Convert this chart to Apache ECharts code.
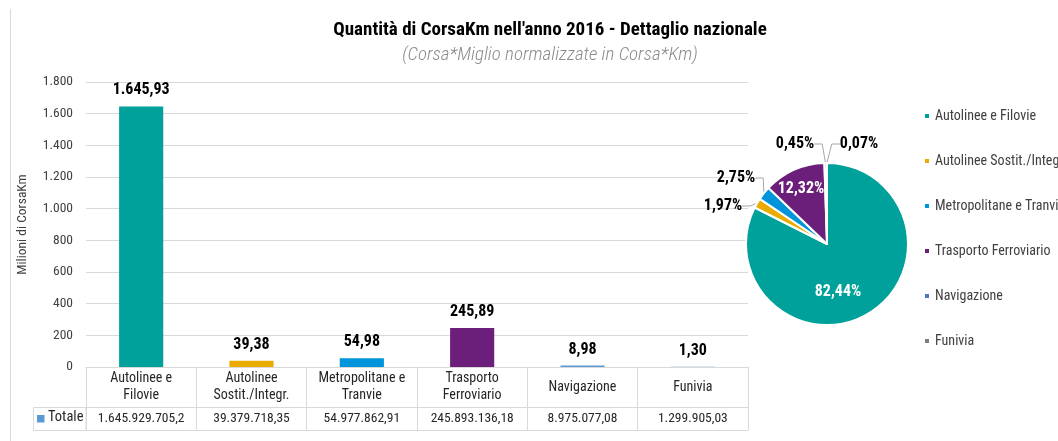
<!DOCTYPE html>
<html>
<head>
<meta charset="utf-8">
<script src="https://cdn.jsdelivr.net/npm/echarts@6/dist/echarts.min.js"></script>
<style>
  html, body { margin: 0; padding: 0; background: #fff; }
  #chart { width: 1058px; height: 441px; }
</style>
</head>
<body>
<div id="chart"></div>
<script>
// data
const categories = ['Autolinee e Filovie', 'Autolinee Sostit./Integr.', 'Metropolitane e Tranvie', 'Trasporto Ferroviario', 'Navigazione', 'Funivia']
const tableNames = ['Autolinee e\nFilovie', 'Autolinee\nSostit./Integr.', 'Metropolitane e\nTranvie', 'Trasporto\nFerroviario', 'Navigazione', 'Funivia']
const barValues = [1645.93, 39.38, 54.98, 245.89, 8.98, 1.30]
const totalLabels = ['1.645.929.705,2', '39.379.718,35', '54.977.862,91', '245.893.136,18', '8.975.077,08', '1.299.905,03']
const yTicks = [0, 200, 400, 600, 800, 1000, 1200, 1400, 1600, 1800]

const barColors = ['#00A19A', '#EAAB00', '#0095DA', '#6C1F7A', '#5B9BD5', '#5B9BD5']
const pieColors = ['#00A19A', '#EAAB00', '#0095DA', '#6C1F7A', '#4A78C6', '#7F7F7F']

// where Excel put the pie labels (label centres)
const pieLabelPos = [[838, 292], [723, 206], [736, 178], [801, 189], [795, 144], [859, 144]]

const FONT = '"Roboto Condensed", Roboto, sans-serif'
const GRID = '#D9D9D9'

const itNum = (v, d) => {
  const parts = v.toFixed(d).split('.')
  parts[0] = parts[0].replace(/\B(?=(\d{3})+(?!\d))/g, '.')
  return parts.join(',')
}

const chart = echarts.init(document.getElementById('chart'))

chart.setOption({
  animation: false,
  textStyle: { fontFamily: FONT },
  title: {
    text: "Quantità di CorsaKm nell'anno 2016 - Dettaglio nazionale",
    subtext: '(Corsa*Miglio normalizzate in Corsa*Km)',
    left: 545,
    textAlign: 'center',
    top: 16,
    itemGap: 6,
    textStyle: { fontFamily: FONT, fontSize: 19, fontWeight: 'bold', color: '#000' },
    subtextStyle: { fontFamily: FONT, fontSize: 19, fontStyle: 'italic', fontWeight: 300, color: '#8C8C8C' }
  },
  legend: {
    data: categories,
    orient: 'vertical',
    left: 923,
    top: 109,
    padding: 0,
    itemWidth: 6,
    itemHeight: 6,
    itemGap: 31,
    icon: 'rect',
    textStyle: { fontFamily: FONT, fontSize: 14, color: '#404040' }
  },
  grid: { left: 86, right: 310, top: 82, bottom: 74 },
  xAxis: [
    {
      type: 'category',
      data: tableNames,
      axisLine: { lineStyle: { color: GRID } },
      axisTick: { show: true, length: 40, interval: 0, lineStyle: { color: GRID } },
      axisLabel: {
        interval: 0, margin: 20, verticalAlign: 'middle', lineHeight: 17,
        fontFamily: FONT, fontSize: 14, color: '#262626'
      }
    },
    {
      type: 'category',
      position: 'bottom',
      offset: 40,
      data: totalLabels,
      axisLine: { lineStyle: { color: GRID } },
      axisTick: { show: true, length: 23, interval: 0, lineStyle: { color: GRID } },
      axisLabel: {
        interval: 0, margin: 12, verticalAlign: 'middle',
        fontFamily: FONT, fontSize: 13.5, color: '#262626'
      }
    },
    {
      type: 'category',
      position: 'bottom',
      offset: 63,
      data: categories,
      axisLine: { lineStyle: { color: GRID } },
      axisTick: { show: false },
      axisLabel: { show: false }
    }
  ],
  yAxis: {
    type: 'value',
    min: yTicks[0],
    max: yTicks[yTicks.length - 1],
    interval: yTicks[1] - yTicks[0],
    name: 'Milioni di CorsaKm',
    nameLocation: 'middle',
    nameGap: 56,
    nameTextStyle: { fontFamily: FONT, fontSize: 13.5, color: '#404040' },
    axisLine: { show: false },
    axisTick: { show: false },
    splitLine: { lineStyle: { color: GRID } },
    axisLabel: {
      margin: 13,
      fontFamily: FONT, fontSize: 13.5, color: '#404040',
      formatter: v => itNum(v, 0)
    }
  },
  series: [
    {
      name: 'Totale',
      type: 'bar',
      xAxisIndex: 0,
      barWidth: '40%',
      data: barValues.map((v, i) => ({ value: v, itemStyle: { color: barColors[i] } })),
      label: {
        show: true,
        position: 'top',
        distance: 8,
        fontFamily: FONT, fontSize: 16, fontWeight: 'bold', color: '#000',
        formatter: p => itNum(p.value, 2)
      }
    },
    {
      type: 'pie',
      center: [827, 244],
      radius: 81,
      startAngle: 90,
      clockwise: true,
      color: pieColors,
      itemStyle: { borderColor: '#fff', borderWidth: 2 },
      label: {
        show: true,
        position: 'outside',
        fontFamily: FONT, fontSize: 16, fontWeight: 'bold', color: '#000',
        formatter: p => itNum(p.percent, 2) + '%'
      },
      labelLine: { length: 8, length2: 8, lineStyle: { color: '#A6A6A6' } },
      labelLayout: p => ({
        x: pieLabelPos[p.dataIndex][0],
        y: pieLabelPos[p.dataIndex][1],
        align: 'center',
        verticalAlign: 'middle'
      }),
      data: categories.map((c, i) => {
        const d = { name: c, value: barValues[i] }
        if (i === 0 || i === 3) {
          d.label = { position: 'inside', color: '#fff', fontWeight: 'bold' }
        }
        return d
      })
    }
  ],
  graphic: [
    { type: 'line', shape: { x1: 10.5, y1: 9, x2: 10.5, y2: 441 }, style: { stroke: GRID } },
    { type: 'rect', shape: { x: 33.5, y: 407.5, width: 52.5, height: 23 }, style: { fill: 'none', stroke: GRID } },
    { type: 'rect', shape: { x: 37, y: 415, width: 7.5, height: 7.5 }, style: { fill: '#5B9BD5' } },
    {
      type: 'text', left: 48, top: 410,
      style: { text: 'Totale', fontFamily: FONT, fontSize: 14.5, fill: '#262626' }
    }
  ]
})

window.addEventListener('resize', () => chart.resize())
</script>
</body>
</html>
